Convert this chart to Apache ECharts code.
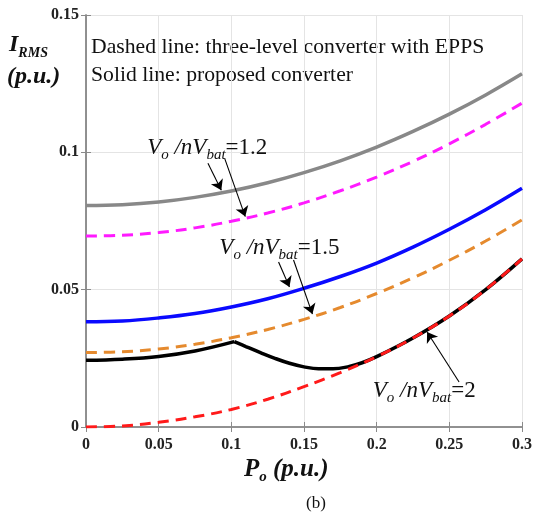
<!DOCTYPE html>
<html>
<head>
<meta charset="utf-8">
<script src="https://cdn.jsdelivr.net/npm/echarts@6/dist/echarts.min.js"></script>
<style>
  html, body { margin: 0; padding: 0; background: #fff; }
  #chart { width: 535px; height: 516px; }
</style>
</head>
<body>
<div id="chart"></div>
<script>
// x values (Po, p.u.) shared by the smooth curves
const P = [0, 0.025, 0.05, 0.075, 0.1, 0.125, 0.15, 0.175, 0.2, 0.225, 0.25, 0.275, 0.3];

// Vo/nVbat = 1.2
const prop12 = [0.0806, 0.0809, 0.0819, 0.0836, 0.0859, 0.0889, 0.0926, 0.0969, 0.1019, 0.1076, 0.1139, 0.1209, 0.1286];
const epps12 = [0.0695, 0.0698, 0.0708, 0.0725, 0.0749, 0.0779, 0.0816, 0.0860, 0.0910, 0.0967, 0.1031, 0.1102, 0.1179];
// Vo/nVbat = 1.5
const prop15 = [0.0383, 0.0386, 0.0397, 0.0413, 0.0437, 0.0467, 0.0505, 0.0548, 0.0597, 0.0655, 0.0720, 0.0791, 0.0869];
const epps15 = [0.0271, 0.0274, 0.0284, 0.0301, 0.0325, 0.0355, 0.0392, 0.0435, 0.0486, 0.0543, 0.0607, 0.0677, 0.0754];
// Vo/nVbat = 2
const epps20 = [0, 0.0004, 0.0017, 0.0037, 0.0064, 0.0101, 0.0147, 0.0198, 0.0256, 0.0324, 0.0404, 0.0500, 0.0612];
// proposed converter at 2 has a corner near 0.1, so it is kept as two pieces
const prop20xA = [0, 0.025, 0.05, 0.075, 0.102];
const prop20yA = [0.0243, 0.0247, 0.0257, 0.0277, 0.0311];
const prop20xB = [0.102, 0.11, 0.12, 0.13, 0.14, 0.15, 0.16, 0.17, 0.18, 0.19, 0.2, 0.225, 0.25, 0.275, 0.3];
const prop20yB = [0.0311, 0.0293, 0.0271, 0.0250, 0.0232, 0.0219, 0.0212, 0.0212, 0.0219, 0.0234, 0.0256, 0.0324, 0.0404, 0.0500, 0.0612];

// annotations, in data coordinates
const noteText = ['1.2', '1.5', '2'];
const noteAt = [[0.0834, 0.1016], [0.1331, 0.0652], [0.2327, 0.0131]];
const arrowFrom = [[0.0839, 0.0960], [0.0954, 0.0978], [0.1325, 0.0601], [0.1428, 0.0608], [0.2567, 0.0164]];
const arrowTo = [[0.0931, 0.0862], [0.1096, 0.0766], [0.1400, 0.0510], [0.1558, 0.0411], [0.2347, 0.0346]];

const xTicks = [0, 0.05, 0.1, 0.15, 0.2, 0.25, 0.3];
const yTicks = [0, 0.05, 0.1, 0.15];

const FONT = '"Liberation Serif", "Times New Roman", serif';
const AXIS_GREY = '#8a8a8a';

const pairs = (xs, ys) => xs.map((x, i) => [x, ys[i]]);
const fmt = (v) => String(+v.toFixed(2));

function curve(name, xs, ys, color, width, dashed) {
  return {
    name: name,
    type: 'line',
    data: pairs(xs, ys),
    smooth: 0.4,
    symbol: 'none',
    silent: true,
    lineStyle: { color: color, width: width, type: dashed ? [11, 7] : 'solid', cap: 'butt' }
  };
}

const italic = { fontFamily: FONT, fontStyle: 'italic', fontSize: 23, lineHeight: 30, color: '#111' };
const upright = { fontFamily: FONT, fontSize: 23, lineHeight: 30, color: '#111' };
const sub = { fontFamily: FONT, fontStyle: 'italic', fontSize: 15, lineHeight: 15, verticalAlign: 'bottom', color: '#111' };

const notes = noteAt.map((c, i) => ({
  coord: c,
  symbol: 'rect',
  symbolSize: 1,
  itemStyle: { color: 'rgba(0,0,0,0)' },
  label: {
    show: true,
    position: 'inside',
    formatter: '{i|V}{s|o}{i| /nV}{s|bat}{u|=' + noteText[i] + '}',
    rich: { i: italic, s: sub, u: upright }
  }
}));

const arrows = arrowFrom.map((a, i) => [{ coord: a }, { coord: arrowTo[i] }]);

const redSeries = curve('EPPS 2', P, epps20, '#ff1a1a', 3, true);
redSeries.markLine = {
  silent: true,
  animation: false,
  symbol: ['none', 'arrow'],
  symbolSize: 10,
  label: { show: false },
  itemStyle: { color: '#000' },
  lineStyle: { color: '#000', width: 1.1, type: 'solid' },
  data: arrows
};
redSeries.markPoint = { silent: true, animation: false, data: notes };

const chart = echarts.init(document.getElementById('chart'), null, { renderer: 'canvas' });

const option = {
  animation: false,
  backgroundColor: '#fff',
  grid: { left: 86, right: 12, top: 15, bottom: 89, containLabel: false },
  xAxis: [
    {
      type: 'value', min: xTicks[0], max: xTicks[xTicks.length - 1], interval: 0.05,
      axisLine: { show: true, lineStyle: { color: AXIS_GREY, width: 1.5 } },
      axisTick: { show: true, inside: true, length: 5, lineStyle: { color: AXIS_GREY } },
      splitLine: { show: true, lineStyle: { color: '#e4e4e4', width: 1 } },
      axisLabel: { margin: 10, color: '#222', fontFamily: FONT, fontWeight: 'bold', fontSize: 16, formatter: fmt }
    },
    {
      type: 'value', position: 'top', min: 0, max: 0.3, interval: 0.05,
      axisLine: { show: true, lineStyle: { color: AXIS_GREY, width: 1.5 } },
      axisTick: { show: true, inside: true, length: 5, lineStyle: { color: AXIS_GREY } },
      splitLine: { show: false },
      axisLabel: { show: false }
    }
  ],
  yAxis: [
    {
      type: 'value', min: yTicks[0], max: yTicks[yTicks.length - 1], interval: 0.05,
      axisLine: { show: true, lineStyle: { color: AXIS_GREY, width: 1.5 } },
      axisTick: { show: true, inside: true, length: 5, lineStyle: { color: AXIS_GREY } },
      splitLine: { show: true, lineStyle: { color: '#e4e4e4', width: 1 } },
      axisLabel: { margin: 7, color: '#222', fontFamily: FONT, fontWeight: 'bold', fontSize: 16, formatter: fmt }
    },
    {
      type: 'value', position: 'right', min: 0, max: 0.15, interval: 0.05,
      axisLine: { show: true, lineStyle: { color: AXIS_GREY, width: 1.5 } },
      axisTick: { show: true, inside: true, length: 5, lineStyle: { color: AXIS_GREY } },
      splitLine: { show: false },
      axisLabel: { show: false }
    }
  ],
  series: [
    curve('proposed 1.2', P, prop12, '#888888', 3.5, false),
    curve('EPPS 1.2', P, epps12, '#ff1aff', 3, true),
    curve('proposed 1.5', P, prop15, '#0a0aff', 3.5, false),
    curve('EPPS 1.5', P, epps15, '#e58a2e', 3, true),
    curve('proposed 2 (a)', prop20xA, prop20yA, '#000000', 3.5, false),
    curve('proposed 2 (b)', prop20xB, prop20yB, '#000000', 3.5, false),
    redSeries
  ],
  graphic: [
    {
      type: 'text', left: 91, top: 36, silent: true,
      style: { text: 'Dashed line: three-level converter with EPPS', fontFamily: FONT, fontSize: 21.7, fill: '#111' }
    },
    {
      type: 'text', left: 91, top: 64, silent: true,
      style: { text: 'Solid line: proposed converter', fontFamily: FONT, fontSize: 21.7, fill: '#111' }
    },
    {
      type: 'text', left: 9, top: 33, silent: true,
      style: {
        text: '{b|I}{s|RMS}',
        rich: {
          b: { fontFamily: FONT, fontStyle: 'italic', fontWeight: 'bold', fontSize: 24, lineHeight: 30, fill: '#111' },
          s: { fontFamily: FONT, fontStyle: 'italic', fontWeight: 'bold', fontSize: 14, lineHeight: 14, verticalAlign: 'bottom', fill: '#111' }
        }
      }
    },
    {
      type: 'text', left: 7, top: 65, silent: true,
      style: { text: '(p.u.)', fontFamily: FONT, fontStyle: 'italic', fontWeight: 'bold', fontSize: 24, fill: '#111' }
    },
    {
      type: 'text', left: 244, top: 457, silent: true,
      style: {
        text: '{b|P}{s|o}{b| (p.u.)}',
        rich: {
          b: { fontFamily: FONT, fontStyle: 'italic', fontWeight: 'bold', fontSize: 25, lineHeight: 30, fill: '#111' },
          s: { fontFamily: FONT, fontStyle: 'italic', fontWeight: 'bold', fontSize: 15, lineHeight: 15, verticalAlign: 'bottom', fill: '#111' }
        }
      }
    },
    {
      type: 'text', left: 306, top: 495, silent: true,
      style: { text: '(b)', fontFamily: FONT, fontSize: 17, fill: '#111' }
    }
  ]
};

chart.setOption(option);
</script>
</body>
</html>
